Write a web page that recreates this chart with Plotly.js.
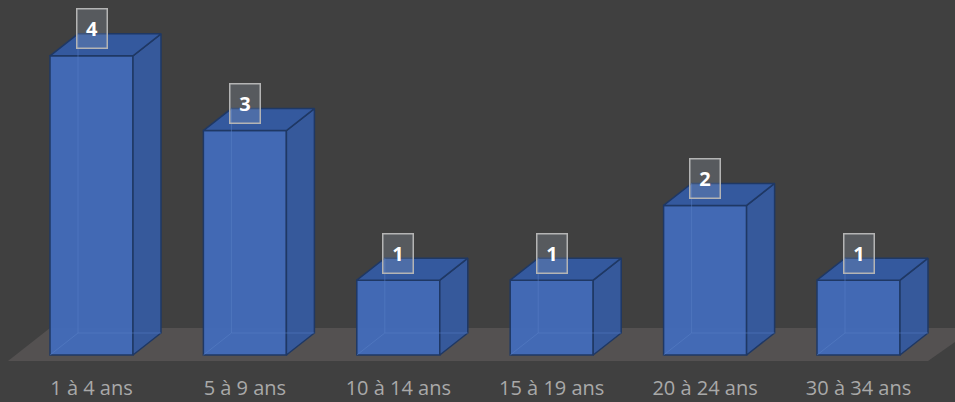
<!DOCTYPE html>
<html>
<head>
<meta charset="utf-8">
<script src="https://cdn.plot.ly/plotly-3.0.1.min.js"></script>
<style>html,body{margin:0;padding:0;background:#404040;}#chart{width:955px;height:402px;}</style>
</head>
<body>
<div id="chart"></div>
<script>
const categories = ["1 à 4 ans", "5 à 9 ans", "10 à 14 ans", "15 à 19 ans", "20 à 24 ans", "30 à 34 ans"];
const values = [4, 3, 1, 1, 2, 1];

// geometry (pixel-based calibration converted to data units)
const W = 955, H = 402, B = 32;
const plotH = H - B;
const pxPerCat = 153.4, firstCenter = 91.5;
const pxPerUnit = 74.8, zeroPx = 355;
const xr = [-firstCenter / pxPerCat, (W - firstCenter) / pxPerCat];
const yr = [(zeroPx - plotH) / pxPerUnit, zeroPx / pxPerUnit];
const hw = 41.5 / pxPerCat;      // half bar width
const dx = 28 / pxPerCat;        // depth offset x
const dy = 22 / pxPerUnit;       // depth offset y
const edge = '#1f3864';
const xs = values.map((v, i) => i);

const traces = [];
// front faces as bars
traces.push({
  type: 'bar', x: xs, y: values, width: 2 * hw,
  marker: {color: 'rgba(66,108,186,0.95)', line: {color: edge, width: 1.5}},
  hoverinfo: 'skip', showlegend: false
});
values.forEach((v, i) => {
  const L = i - hw, R = i + hw;
  // side face
  traces.push({
    type: 'scatter', mode: 'lines', fill: 'toself',
    x: [R, R + dx, R + dx, R, R], y: [0, dy, v + dy, v, 0],
    fillcolor: '#36599b', line: {color: edge, width: 1.5},
    hoverinfo: 'skip', showlegend: false
  });
  // top face
  traces.push({
    type: 'scatter', mode: 'lines', fill: 'toself',
    x: [L, L + dx, R + dx, R, L], y: [v, v + dy, v + dy, v, v],
    fillcolor: '#34599e', line: {color: edge, width: 1.5},
    hoverinfo: 'skip', showlegend: false
  });
  // hidden back edges (seen through the translucent front)
  traces.push({
    type: 'scatter', mode: 'lines',
    x: [L, L + dx, R + dx, null, L + dx, L + dx], y: [0, dy, dy, null, dy, v + dy],
    line: {color: 'rgba(90,130,200,0.5)', width: 1},
    hoverinfo: 'skip', showlegend: false
  });
});

const annotations = values.map((v, i) => ({
  x: i, y: v + 27 / pxPerUnit, xref: 'x', yref: 'y',
  text: '<b>' + v + '</b>', showarrow: false,
  font: {family: 'Open Sans, Liberation Sans, sans-serif', size: 20, color: '#ffffff'},
  bgcolor: 'rgba(170,180,200,0.22)', bordercolor: '#b4b4b4', borderwidth: 1.5,
  width: 29, height: 38, borderpad: 0, xanchor: 'center', yanchor: 'middle'
}));

const floorFrontY = (zeroPx - 361) / pxPerUnit;
const floorBackY = (zeroPx - 328) / pxPerUnit;
const fl = (8 - firstCenter) / pxPerCat, bl = (50 - firstCenter) / pxPerCat;
const fr = (928 - firstCenter) / pxPerCat, br = (975 - firstCenter) / pxPerCat;

const layout = {
  width: W, height: H,
  margin: {l: 0, r: 0, t: 0, b: B, pad: 0},
  paper_bgcolor: '#404040', plot_bgcolor: '#404040',
  showlegend: false,
  xaxis: {range: xr, tickvals: xs, ticktext: categories, showgrid: false, zeroline: false,
          showline: false, ticks: '', fixedrange: true, ticklabelstandoff: 4,
          tickfont: {family: 'Open Sans, Liberation Sans, sans-serif', size: 20, color: '#a9a9a9'}},
  yaxis: {range: yr, showgrid: false, zeroline: false, showticklabels: false, showline: false, ticks: ''},
  shapes: [{
    type: 'path', xref: 'x', yref: 'y', layer: 'below',
    path: `M ${fl} ${floorFrontY} L ${bl} ${floorBackY} L ${br} ${floorBackY} L ${fr} ${floorFrontY} Z`,
    fillcolor: '#545151', line: {width: 0}
  }],
  annotations: annotations
};

Plotly.newPlot('chart', traces, layout, {displayModeBar: false, staticPlot: true});
</script>
</body>
</html>
